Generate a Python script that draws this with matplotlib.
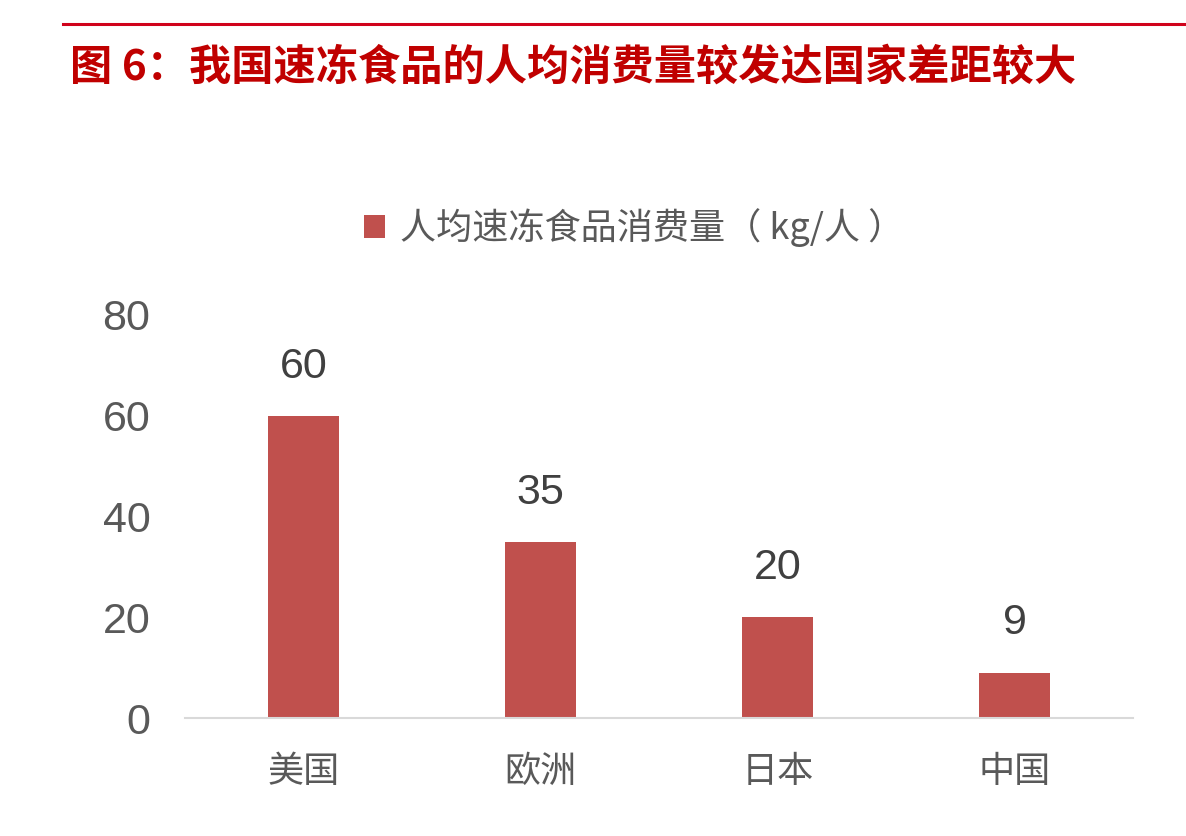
import matplotlib.pyplot as plt
from matplotlib.lines import Line2D

regions = ['美国', '欧洲', '日本', '中国']
per_capita = [60, 35, 20, 9]
series_name = '人均速冻食品消费量（ kg/人 ）'
title = '图 6：我国速冻食品的人均消费量较发达国家差距较大'

cjk = ['Noto Sans CJK SC', 'DejaVu Sans']
num = ['Liberation Sans', 'DejaVu Sans']
bar_color = '#C0504D'

fig = plt.figure(figsize=(11.86, 8.36), dpi=100)

# red rule and heading
fig.add_artist(Line2D([63 / 1186, 1.0], [1 - 24 / 836] * 2, color='#D0021B', lw=2.2))
fig.text(70 / 1186, 1 - 68 / 836, title, family=cjk, fontsize=30.4, fontweight='bold',
         color='#C00000', va='center', ha='left')

ax = fig.add_axes([185 / 1186, 1 - 718 / 836, 948 / 1186, 403 / 836])
x = range(len(regions))
bars = ax.bar(x, per_capita, width=0.30, color=bar_color, label=series_name)

for xi, v in zip(x, per_capita):
    ax.annotate(str(v), (xi, v), xytext=(0, 21), textcoords='offset points',
                ha='center', va='bottom', fontsize=31, color='#404040', family=num)

ax.set_xlim(-0.5, 3.5)
ax.set_ylim(0, 80)
ax.set_yticks([0, 20, 40, 60, 80])
ax.set_xticks(list(x))
ax.set_xticklabels(regions, family=cjk, fontsize=26, color='#595959')
for lab in ax.get_yticklabels():
    lab.set_family(num)
    lab.set_fontsize(31)
    lab.set_color('#595959')
ax.tick_params(axis='both', length=0)
ax.tick_params(axis='y', pad=25)
ax.tick_params(axis='x', pad=26)

for s in ['top', 'right', 'left']:
    ax.spines[s].set_visible(False)
ax.spines['bottom'].set_color('#D9D9D9')
ax.spines['bottom'].set_linewidth(1.5)

leg = ax.legend(loc='center', bbox_to_anchor=((634 - 185) / 948, (718 - 228) / 403),
                frameon=False, prop={'family': cjk, 'size': 26},
                handlelength=0.6, handleheight=0.6, handletextpad=0.4)
for t in leg.get_texts():
    t.set_color('#595959')

plt.savefig('out.png', dpi=100)
